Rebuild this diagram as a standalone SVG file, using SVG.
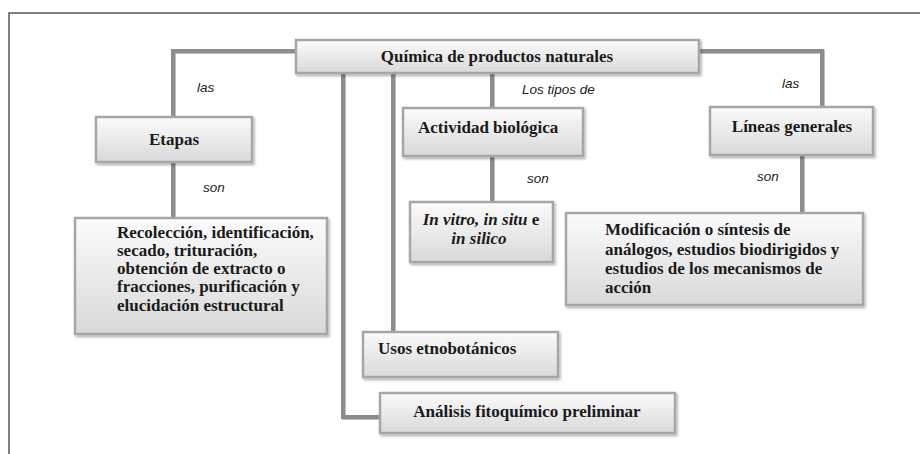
<svg xmlns="http://www.w3.org/2000/svg" width="920" height="454" viewBox="0 0 920 454">
<defs>
<linearGradient id="g" x1="0" y1="0" x2="0" y2="1">
<stop offset="0" stop-color="#fbfbfb"/>
<stop offset="1" stop-color="#d9d9d9"/>
</linearGradient>
<filter id="sh" x="-10%" y="-20%" width="120%" height="150%">
<feDropShadow dx="1.5" dy="2" stdDeviation="1.2" flood-color="#000" flood-opacity="0.3"/>
</filter>
<filter id="lsh" filterUnits="userSpaceOnUse" x="0" y="0" width="920" height="454">
<feDropShadow dx="1" dy="1" stdDeviation="0.6" flood-color="#000" flood-opacity="0.25"/>
</filter>
</defs>
<style>
.box{fill:url(#g);stroke:#a6a6a6;stroke-width:2.5;filter:url(#sh)}
.t{font-family:"Liberation Serif","Times New Roman",serif;font-weight:bold;font-size:17px;fill:#1a1a1a}
.c{text-anchor:middle}
.lab{font-family:"Liberation Sans",Arial,sans-serif;font-style:italic;font-size:13.5px;fill:#222}
.ln{fill:none;stroke:#8c8c8c;stroke-width:4;filter:url(#lsh)}
.frame{fill:none;stroke:#555;stroke-width:1.5}
</style>
<rect width="920" height="454" fill="#fff"/>
<path class="frame" d="M9,454 V13 H920"/>
<g id="connectors">
<path class="ln" d="M296,51 H173 V117"/>
<path class="ln" d="M699,51 H822 V107"/>
<path class="ln" d="M173,162 V218"/>
<path class="ln" d="M492,73 V108"/>
<path class="ln" d="M492,156 V202"/>
<path class="ln" d="M802,155 V213"/>
<path class="ln" d="M393,73 V332"/>
<path class="ln" d="M343,73 V417 H380"/>
<text class="lab" x="197" y="92">las</text>
<text class="lab" x="203" y="192">son</text>
<text class="lab" x="522" y="94">Los tipos de</text>
<text class="lab" x="527" y="183">son</text>
<text class="lab" x="782" y="88">las</text>
<text class="lab" x="757" y="181">son</text>
</g>
<g id="n-main">
<rect class="box" x="296" y="40" width="403" height="33"/>
<text class="t c" x="497" y="62">Química de productos naturales</text>
</g>
<g id="n-etapas">
<rect class="box" x="96" y="117" width="156" height="45"/>
<text class="t c" x="174" y="145">Etapas</text>
</g>
<g id="n-recoleccion">
<rect class="box" x="75" y="218" width="252" height="116"/>
<text class="t" x="117" y="238">Recolección, identificación,</text>
<text class="t" x="117" y="256">secado, trituración,</text>
<text class="t" x="117" y="274">obtención de extracto o</text>
<text class="t" x="117" y="292">fracciones, purificación y</text>
<text class="t" x="117" y="311">elucidación estructural</text>
</g>
<g id="n-actividad">
<rect class="box" x="403" y="108" width="180" height="48"/>
<text class="t" x="418" y="133">Actividad biológica</text>
</g>
<g id="n-invitro">
<rect class="box" x="410" y="202" width="143" height="60"/>
<text class="t c" x="481" y="225"><tspan font-style="italic">In vitro, in situ</tspan> e</text>
<text class="t c" x="479" y="244" font-style="italic">in silico</text>
</g>
<g id="n-lineas">
<rect class="box" x="710" y="107" width="163" height="48"/>
<text class="t c" x="792" y="132">Líneas generales</text>
</g>
<g id="n-modificacion">
<rect class="box" x="566" y="213" width="297" height="92"/>
<text class="t" x="605" y="235">Modificación o síntesis de</text>
<text class="t" x="605" y="255">análogos, estudios biodirigidos y</text>
<text class="t" x="605" y="274">estudios de los mecanismos de</text>
<text class="t" x="605" y="293">acción</text>
</g>
<g id="n-usos">
<rect class="box" x="363" y="332" width="195" height="45"/>
<text class="t" x="378" y="354">Usos etnobotánicos</text>
</g>
<g id="n-analisis">
<rect class="box" x="380" y="393" width="295" height="40"/>
<text class="t c" x="527" y="417">Análisis fitoquímico preliminar</text>
</g>
</svg>
